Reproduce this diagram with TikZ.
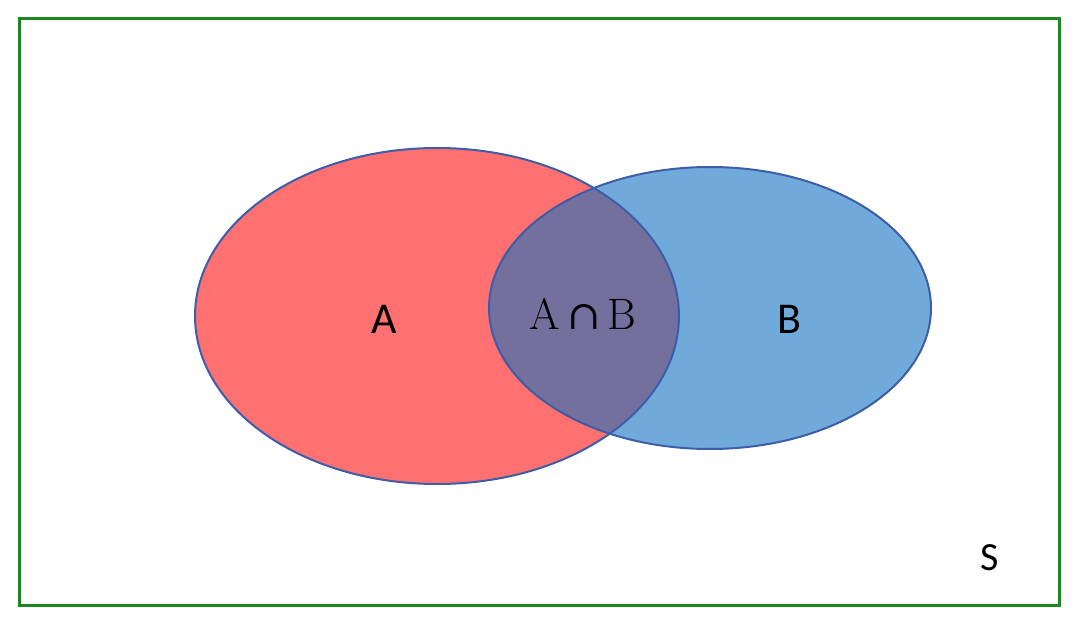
\documentclass[tikz,border=0pt]{standalone}
\usepackage{fontspec}
\newfontfamily\calib{Carlito}
\newfontfamily\dvs{DejaVu Serif}
\begin{document}
\begin{tikzpicture}[x=1pt,y=-1pt,
  setline/.style={draw=setblue,line width=2pt},
  lbl/.style={font=\calib\fontsize{44}{50}\selectfont,text=black,inner sep=0pt}]
\definecolor{setred}{HTML}{FF7171}
\definecolor{setblue}{HTML}{3D5DA8}
\definecolor{bfill}{HTML}{70AADB}
\definecolor{ofill}{HTML}{73709E}
\definecolor{sgreen}{HTML}{1E881E}
\useasboundingbox (0,0) rectangle (1080,623);
\draw[sgreen,line width=3pt] (19.5,19) rectangle (1059,605);
\fill[setred] (437,316) ellipse [x radius=242, y radius=168];
\fill[bfill] (710,308) ellipse [x radius=221, y radius=141];
\begin{scope}
\clip (437,316) ellipse [x radius=242, y radius=168];
\fill[ofill] (710,308) ellipse [x radius=221, y radius=141];
\end{scope}
\draw[setline] (437,316) ellipse [x radius=242, y radius=168];
\draw[setline] (710,308) ellipse [x radius=221, y radius=141];
\node[lbl] (a) at (384,319) {A};
\node[lbl,font=\fontsize{44}{50}\selectfont] (ab) at (583,314) {A\,{\dvs\fontsize{40}{46}\selectfont ∩}\,B};
\node[lbl] (b) at (789,319) {B};
\node[lbl,font=\calib\fontsize{40}{46}\selectfont] (s) at (990,558) {S};
\end{tikzpicture}
\end{document}
